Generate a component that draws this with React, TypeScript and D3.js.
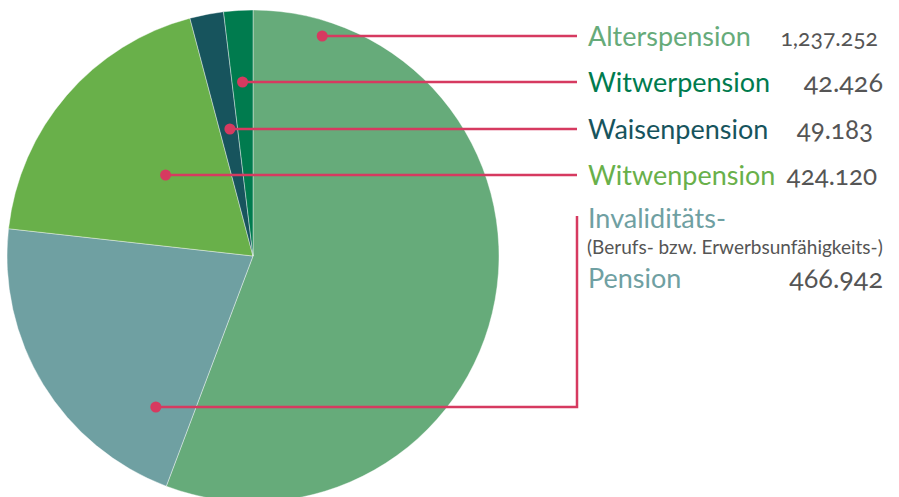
import React, { useEffect, useRef } from "react";
import * as d3 from "d3";

// slice order, clockwise from 12 o'clock
const categories = ["Alterspension", "Invaliditäts", "Witwenpension", "Waisenpension", "Witwerpension"];
const values = [1237252, 466942, 424120, 49183, 42426];
const valueLabels = ["1,237.252", "466.942", "424.120", "49.183", "42.426"];
const colors = ["#66ab7a", "#6fa0a2", "#69b04a", "#17545d", "#007b4e"];

// legend rows top to bottom
const legendOrder = ["Alterspension", "Witwerpension", "Waisenpension", "Witwenpension"];

export default function App() {
  const ref = useRef<SVGSVGElement>(null);

  useEffect(() => {
    const svg = d3.select(ref.current);
    svg.selectAll("*").remove();

    const cx = 253;
    const cy = 256;
    const r = 246;
    const leaderEnd = 577;
    const textX = 588;
    const accent = "#d63a60";
    const font = "Lato, 'Open Sans', sans-serif";

    const pie = d3.pie<number>().sort(null).value((d) => d);
    const arcs = pie(values);
    const arc = d3.arc<d3.PieArcDatum<number>>().innerRadius(0).outerRadius(r);

    const g = svg.append("g").attr("transform", `translate(${cx},${cy})`);
    g.selectAll("path")
      .data(arcs)
      .join("path")
      .attr("d", arc)
      .attr("fill", (_, i) => colors[i])
      .attr("stroke", "rgba(255,255,255,0.5)")
      .attr("stroke-width", 0.8);

    // leader dot on a horizontal line y, along an angle inside the slice
    const dotAt = (i: number, t: number, y: number) => {
      const a = arcs[i];
      const ang = a.startAngle + (a.endAngle - a.startAngle) * t;
      const dy = y - cy;
      const dx = -dy * Math.tan(ang);
      return [cx + dx, y];
    };

    const rowY = [36, 82, 129, 175];
    const rowT = [0.087, 0.5, 0.57, 0.53];
    const numEnd = [878, 883, 873, 877];
    const numSize = [23, 27, 26, 26];
    const lead = svg.append("g");

    legendOrder.forEach((name, k) => {
      const i = categories.indexOf(name);
      const y = rowY[k];
      const [x] = dotAt(i, rowT[k], y);
      lead.append("line")
        .attr("x1", x).attr("y1", y).attr("x2", leaderEnd).attr("y2", y)
        .attr("stroke", accent).attr("stroke-width", 2.5);
      lead.append("circle").attr("cx", x).attr("cy", y).attr("r", 5.5).attr("fill", accent);
      svg.append("text")
        .attr("x", textX).attr("y", y + 10)
        .attr("font-family", font).attr("font-size", 27)
        .attr("fill", colors[i])
        .text(name);
      svg.append("text")
        .attr("x", numEnd[k]).attr("y", y + 10)
        .attr("text-anchor", "end")
        .attr("font-family", font).attr("font-size", numSize[k])
        .attr("fill", "#555")
        .style("font-variant-numeric", "oldstyle-nums")
        .text(valueLabels[i]);
    });

    // Invaliditäts leader: bottom-left dot, across and up
    const inv = categories.indexOf("Invaliditäts");
    const invY = 407;
    const [ix] = dotAt(inv, 0.16, invY);
    lead.append("path")
      .attr("d", d3.line()([[ix, invY], [leaderEnd, invY], [leaderEnd, 216]]))
      .attr("fill", "none")
      .attr("stroke", accent).attr("stroke-width", 2.5);
    lead.append("circle").attr("cx", ix).attr("cy", invY).attr("r", 5.5).attr("fill", accent);

    svg.append("text")
      .attr("x", textX).attr("y", 228)
      .attr("font-family", font).attr("font-size", 27)
      .attr("fill", colors[inv])
      .text("Invaliditäts-");
    svg.append("text")
      .attr("x", textX - 1).attr("y", 254)
      .attr("font-family", font).attr("font-size", 19)
      .attr("fill", "#555")
      .text("(Berufs- bzw. Erwerbsunfähigkeits-)");
    svg.append("text")
      .attr("x", textX).attr("y", 288)
      .attr("font-family", font).attr("font-size", 27)
      .attr("fill", colors[inv])
      .text("Pension");
    svg.append("text")
      .attr("x", 883).attr("y", 288)
      .attr("text-anchor", "end")
      .attr("font-family", font).attr("font-size", 27)
      .attr("fill", "#555")
      .style("font-variant-numeric", "oldstyle-nums")
      .text(valueLabels[inv]);
  }, []);

  return (
    <svg
      ref={ref}
      width={899}
      height={497}
      style={{ position: "absolute", left: 0, top: 0, display: "block" }}
    />
  );
}
